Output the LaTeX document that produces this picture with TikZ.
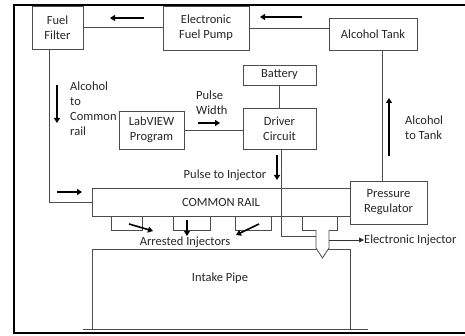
\documentclass[tikz,border=0pt]{standalone}
\usepackage{fontspec}
\setmainfont{Carlito}
\usetikzlibrary{arrows.meta}
\begin{document}
\begin{tikzpicture}[x=1pt,y=-1pt,
  every node/.style={font=\fontsize{12.5}{15}\selectfont, text=black!85},
  box/.style={draw=black!70, line width=0.8pt, fill=white, align=center, inner sep=0pt},
  wire/.style={draw=black!70, line width=0.8pt},
  arr/.style={draw=black, line width=1.6pt, -{Triangle[length=5pt,width=6pt]}},
  tarr/.style={draw=black!80, line width=0.9pt, -{Triangle[length=5pt,width=5pt]}},
  lbl/.style={inner sep=0pt, align=left}]
\useasboundingbox (0,0) rectangle (465,336);
% frame
\draw[line width=2pt] (465,5) -- (14,5) -- (14,333) -- (465,333);

% boxes
\node[box, minimum width=51pt, minimum height=43pt] (filter) at (57.5,27.5) {Fuel\\Filter};
\node[box, minimum width=86pt, minimum height=44pt] (pump) at (206,28) {Electronic\\Fuel Pump};
\node[box, minimum width=88pt, minimum height=32pt] (tank) at (373,34) {Alcohol Tank};
\node[box, minimum width=73pt, minimum height=20pt] (battery) at (279.5,75) {Battery};
\node[box, minimum width=73pt, minimum height=41pt] (driver) at (279.5,128.5) {Driver\\Circuit};
\node[box, minimum width=65pt, minimum height=38pt] (labview) at (151.5,130) {LabVIEW\\Program};
\node[box, minimum width=258pt, minimum height=28pt] (rail) at (221,202) {COMMON RAIL};
\node[box, minimum width=77pt, minimum height=43pt] (preg) at (388.5,202.5) {Pressure\\Regulator};
\node[draw=black!70, line width=0.8pt, minimum width=258pt, minimum height=80pt, inner sep=0pt] (intake) at (221,289) {};
\node at (220,278) {Intake Pipe};
\draw[wire] (83,329) -- (368,329);

% injector cups
\draw[wire] (111,216) -- (111,230) -- (142,230) -- (142,216);
\draw[wire] (173,216) -- (173,230) -- (210,230) -- (210,216);
\draw[wire] (235,216) -- (235,230) -- (271,230) -- (271,216);
\draw[wire] (302,216) -- (302,230) -- (337,230) -- (337,216);
\draw[wire, fill=white] (316,230) -- (316,248) -- (322.5,258) -- (329,248) -- (329,230);
\coordinate (nzlw) at (316,236);
\coordinate (nzle) at (329,240);

% connectors
\draw[wire] (filter.east) -- (filter.east -| pump.west);
\draw[wire] (pump.east) -- (pump.east -| tank.west);
\draw[wire] ([xshift=9pt]tank.south) -- ([xshift=9pt]tank.south |- preg.north);
\draw[wire] (battery.south) -- (battery.south |- driver.north);
\draw[wire] (labview.east) -- (labview.east -| driver.west);
\draw[wire] ([xshift=-8.5pt]filter.south) |- (rail.west);
\draw[wire] ([xshift=1.5pt]driver.south) |- (nzlw);
\node[lbl, anchor=west] (einj) at (364,240) {Electronic Injector};
\draw[tarr] (nzle) -- (einj.west);

% labels
\node[lbl, anchor=west] (l1) at (70,108.5) {Alcohol\\to\\Common\\rail};
\node[lbl, anchor=west] (l2) at (196,102.5) {Pulse\\Width};
\node[lbl, anchor=west] (l3) at (405,128) {Alcohol\\to Tank};
\node (l4) at (225,175) {Pulse to Injector};
\node (l5) at (185,242) {Arrested Injectors};

% indicator arrows
\draw[arr] (144,18) -- (110,18);
\draw[arr] (302,17) -- (260,17);
\draw[arr] (57,85) -- (57,123);
\draw[arr] (198,123) -- (220,123);
\draw[arr] (389,156) -- (389,98);
\draw[arr] (277,155) -- (277,180);
\draw[arr] (57,192) -- (82,192);
\draw[arr] (129,224) -- (153,231);
\draw[arr] (187,220) -- (187,236);
\draw[arr] (259,224) -- (236,235);
\end{tikzpicture}
\end{document}
